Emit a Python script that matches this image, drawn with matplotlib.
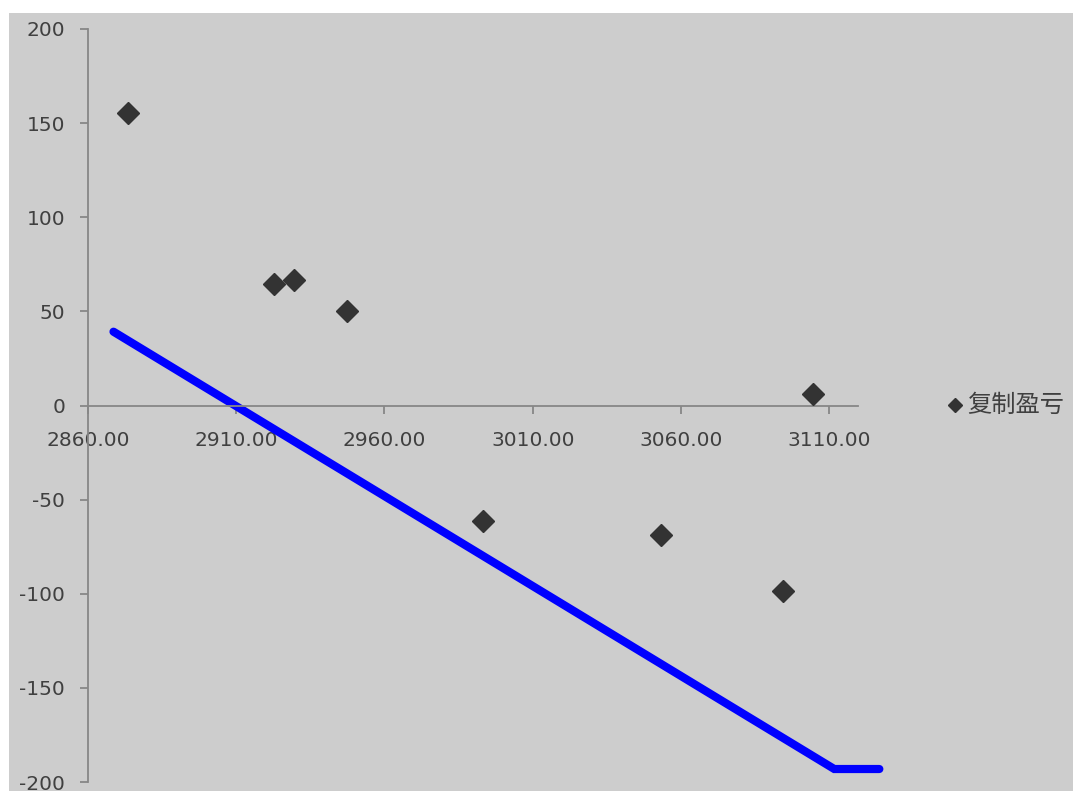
import matplotlib
matplotlib.use("Agg")
import matplotlib.pyplot as plt
from matplotlib.patches import Rectangle
from matplotlib.lines import Line2D

plt.rcParams['font.family'] = ['DejaVu Sans', 'Noto Sans CJK SC']

# Replicated P&L points
price = [2873.6, 2922.9, 2929.6, 2947.3, 2993.1, 3053.3, 3094.5, 3104.6]
pnl = [155.5, 64.4, 66.7, 50.4, -61.4, -68.8, -98.5, 5.9]

# Payoff line vertices
line_x = [2868.6, 3111.7, 3126.9]
line_y = [39.2, -193.1, -193.1]

x_ticks = [2860, 2910, 2960, 3010, 3060, 3110]
y_ticks = [-200, -150, -100, -50, 0, 50, 100, 150, 200]
series_name = "复制盈亏"

W, H = 1073, 791
fig = plt.figure(figsize=(W / 100, H / 100), dpi=100)
fig.patch.set_facecolor("white")
bg = "#cdcdcd"
fig.patches.append(Rectangle((9 / W, 0), 1 - 9 / W, (H - 13) / H,
                             transform=fig.transFigure, facecolor=bg,
                             edgecolor="none", zorder=-5))

ax = fig.add_axes([88 / W, (H - 782) / H, (857.7 - 88) / W, (782 - 29) / H])
ax.set_zorder(1)
ax.patch.set_alpha(0)

ax.plot(line_x, line_y, color="#0000ff", lw=5.9, solid_capstyle="round",
        solid_joinstyle="miter", clip_on=False, zorder=2)
ax.plot(price, pnl, linestyle="none", marker="D", markersize=11,
        color="#333333", markeredgecolor="#333333", zorder=3, clip_on=False)

ax.set_xlim(2860, 3119.6)
ax.set_ylim(-200, 200)

for s in ["top", "right"]:
    ax.spines[s].set_visible(False)
ax.spines["bottom"].set_position(("data", 0))
ax.spines["left"].set_position(("data", 2860))
for s in ["bottom", "left"]:
    ax.spines[s].set_color("#878787")
    ax.spines[s].set_linewidth(1.3)

ax.set_xticks(x_ticks)
ax.set_xticklabels([f"{v:.2f}" for v in x_ticks])
ax.set_yticks(y_ticks)
ax.set_yticklabels([str(v) for v in y_ticks])
ax.tick_params(axis="x", direction="out", length=5.5, width=1.3,
               color="#878787", pad=12.5, labelsize=14.5, labelcolor="#404040")
ax.tick_params(axis="y", direction="out", length=5.5, width=1.3,
               color="#878787", pad=11, labelsize=14.5, labelcolor="#404040")

# Legend with the scatter series only
fig.lines.append(Line2D([955 / W], [(H - 405) / H], transform=fig.transFigure,
                        marker="D", markersize=7.5, color="#333333",
                        linestyle="none"))
fig.text(967 / W, (H - 405) / H, series_name, family=["Noto Sans CJK SC", "DejaVu Sans"],
         fontsize=17.5, color="#404040", va="center", ha="left")

fig.savefig("out.png", dpi=100, facecolor=fig.get_facecolor())
